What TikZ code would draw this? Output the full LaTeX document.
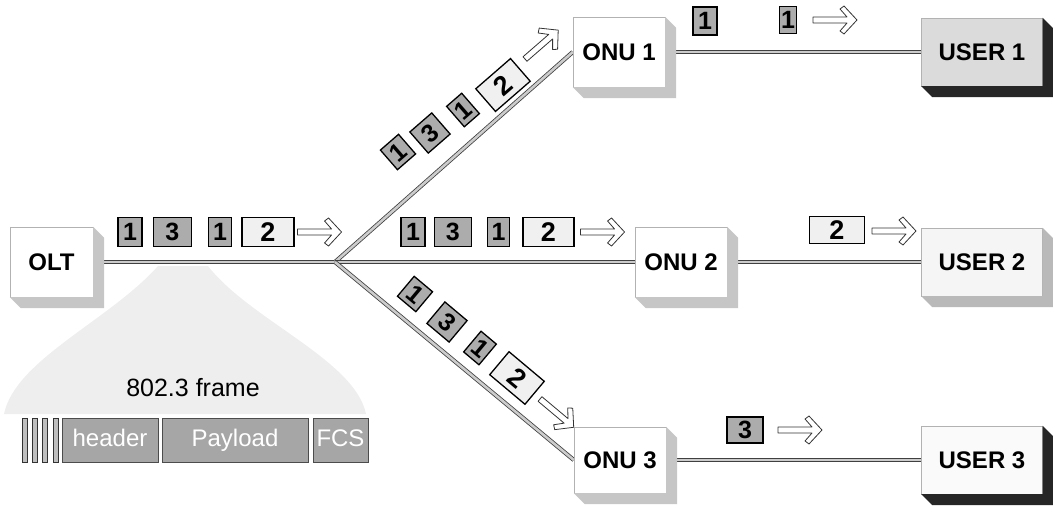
\documentclass[tikz,border=0pt]{standalone}
\usepackage{fontspec}
\setmainfont{Liberation Sans}
\usepackage{tikz}
\usetikzlibrary{calc, positioning, backgrounds}
\tikzset{
    station/.style={rectangle, draw=gray!60, fill=white, thin, inner sep=0pt, minimum width=92pt, minimum height=70pt, font=\bfseries\fontsize{24}{26}\selectfont},
    userbox/.style={station, minimum width=121pt, minimum height=68pt},
    packet/.style={rectangle, draw=black, line width=1.3pt, inner sep=0pt, minimum height=29pt, font=\bfseries\fontsize{25}{25}\selectfont},
    darkpkt/.style={packet, fill=gray!65},
    lightpkt/.style={packet, fill=gray!12, minimum width=51pt, font=\bfseries\fontsize{27}{27}\selectfont},
    fiber/.style={draw=black!75, line width=0.8pt, double=gray!40, double distance=2.6pt},
    arrowline/.style={draw=black!80, line width=0.8pt, fill=white, line join=round},
    flowarrow/.pic={\path[arrowline] (0,3) -- (34,3) -- (27,11) -- (31,14) -- (44,0) -- (31,-14) -- (27,-11) -- (34,-3) -- (0,-3) -- cycle;}
}
% side and bottom faces of a box node
\newcommand{\boxdepth}[2]{\fill[#2] (#1.north east) -- ++(11,11) -- ([shift={(11,11)}]#1.south east) -- ([shift={(11,11)}]#1.south west) -- (#1.south west) -- (#1.south east) -- cycle;}

\begin{document}
\begin{tikzpicture}[
    x=1pt, y=-1pt,
    framebar/.style={rectangle, fill=gray!50, draw=black!80, minimum width=5pt, minimum height=44pt, inner sep=0pt},
    framebox/.style={rectangle, fill=gray!70, draw=black!70, minimum height=44pt, inner sep=0pt, text height=17pt, text depth=5pt, text=white, font=\fontsize{24}{26}\selectfont}
]
    \useasboundingbox (0,0) rectangle (1053,508);

    % 1. OLT, ONUs and users
    \node[station, minimum width=83pt] (olt) at (51.5,262) {OLT};
    \node[station] (onu1) at (619,52) {ONU 1};
    \node[station] (onu2) at (681,262) {ONU 2};
    \node[station, minimum height=66pt] (onu3) at (620,460) {ONU 3};
    \node[userbox, fill=gray!28] (user1) at (982,52) {USER 1};
    \node[userbox, fill=gray!8] (user2) at (982,262) {USER 2};
    \node[userbox, fill=gray!4] (user3) at (982,460) {USER 3};
    \coordinate (split) at (335,262);

    \boxdepth{olt}{gray!45}
    \boxdepth{onu1}{gray!45}
    \boxdepth{onu2}{gray!45}
    \boxdepth{onu3}{gray!45}
    \boxdepth{user1}{black!85}
    \boxdepth{user2}{gray!55}
    \boxdepth{user3}{black!85}

    % 2. fibers and the frame cone (behind everything)
    \begin{scope}[on background layer]
        \fill[gray!13] (158,266) -- (208,266) .. controls (250,320) and (355,360) .. (366,414)
            -- (4,414) .. controls (15,360) and (110,320) .. (158,266) -- cycle;
        \draw[fiber] (olt.east) -- (split);
        \draw[fiber] (split) -- (onu1.west);
        \draw[fiber] (split) -- (onu2.west);
        \draw[fiber] (split) -- (onu3.west);
        \draw[fiber] (onu1.east) -- (user1.west);
        \draw[fiber] (onu2.east) -- (user2.west);
        \draw[fiber] (onu3.east) -- (user3.west);
    \end{scope}

    % 3. packets OLT -> splitter
    \node[darkpkt, minimum width=24pt] (p1) at (130,232) {1};
    \node[darkpkt, minimum width=38pt] (p2) [right=10pt of p1] {3};
    \node[darkpkt, minimum width=23pt] (p3) [right=16pt of p2] {1};
    \node[lightpkt, minimum width=52pt] (p4) [right=9pt of p3] {2};
    \pic at ([xshift=3pt]p4.east) {flowarrow};

    % 4. packets splitter -> ONUs
    \node[darkpkt, minimum width=24pt] (q1) at (413,232) {1};
    \node[darkpkt, minimum width=37pt] (q2) [right=8pt of q1] {3};
    \node[darkpkt, minimum width=22pt] (q3) [right=15pt of q2] {1};
    \node[lightpkt, minimum width=51pt] (q4) [right=12pt of q3] {2};
    \pic at ([xshift=6pt]q4.east) {flowarrow};

    \node[darkpkt, rotate=41, minimum width=24pt, minimum height=26pt] (a1) at (398,152) {1};
    \node[darkpkt, rotate=41, minimum width=29pt, minimum height=28pt] (a2) at (430,133) {3};
    \node[darkpkt, rotate=41, minimum width=20pt, minimum height=27pt] (a3) at (463,110) {1};
    \node[lightpkt, rotate=41, minimum width=46pt, minimum height=30pt] (a4) at (503,85) {2};
    \pic[rotate=41] at (525,59) {flowarrow};

    \node[darkpkt, rotate=-40, minimum width=24pt, minimum height=26pt] (b1) at (415,294) {1};
    \node[darkpkt, rotate=-40, minimum width=29pt, minimum height=28pt] (b2) at (447,322) {3};
    \node[darkpkt, rotate=-40, minimum width=20pt, minimum height=27pt] (b3) at (480,348) {1};
    \node[lightpkt, rotate=-40, minimum width=46pt, minimum height=30pt] (b4) at (517,378) {2};
    \pic[rotate=-40] at (540,399) {flowarrow};

    % 5. packets ONU -> user
    \node[darkpkt, minimum width=24pt, minimum height=28pt] (u1) at (705,21) {1};
    \node[darkpkt, minimum width=17pt, minimum height=27pt] (u2) at (788,20) {1};
    \pic at (813,20) {flowarrow};
    \node[lightpkt, minimum width=55pt, minimum height=27pt] (v1) at (837,230) {2};
    \pic at (872,231) {flowarrow};
    \node[darkpkt, minimum width=36pt, minimum height=26pt] (w1) at (745,430) {3};
    \pic at (778,430) {flowarrow};

    % 6. 802.3 frame
    \node[font=\fontsize{25}{28}\selectfont] (framelabel) at (193,388) {802.3 frame};
    \foreach \x [count=\i] in {24.5,34.5,44.5,55.5}
        \node[framebar] (bar\i) at (\x,440.5) {};
    \node[framebox, minimum width=96pt] (header) at (110,440.5) {header};
    \node[framebox, minimum width=146pt] (payload) at (235,440.5) {Payload};
    \node[framebox, minimum width=55pt] (fcs) at (340.5,440.5) {FCS};

\end{tikzpicture}
\end{document}
